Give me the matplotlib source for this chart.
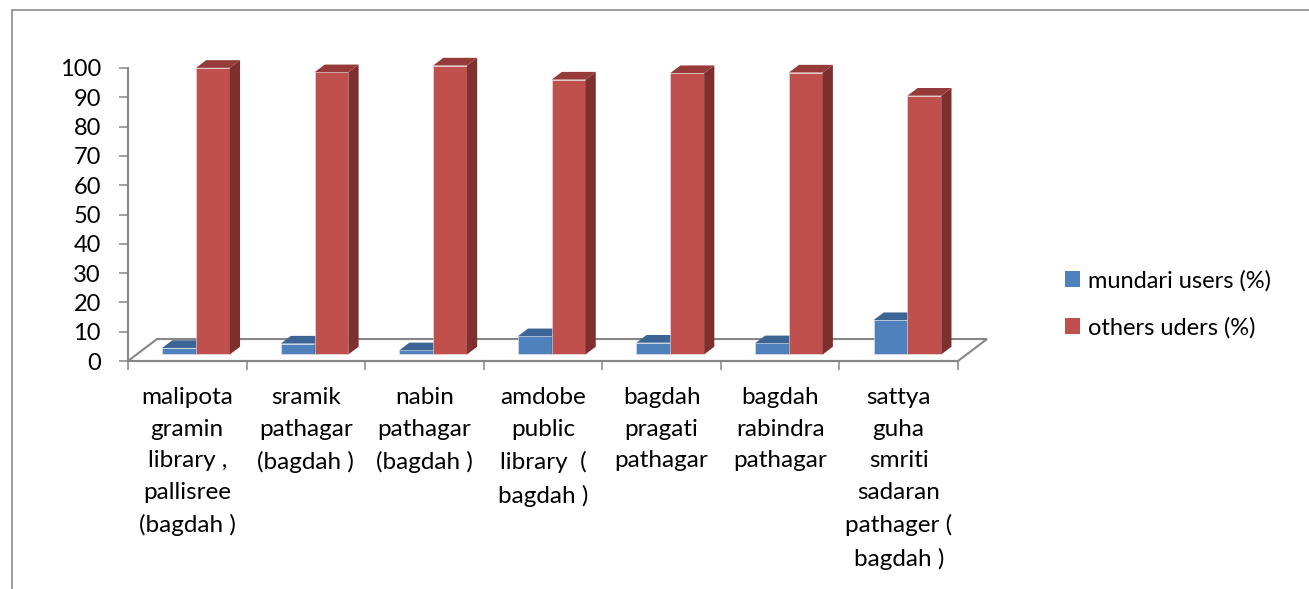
import matplotlib
matplotlib.use("Agg")
import matplotlib.pyplot as plt
from matplotlib.patches import Polygon, Rectangle, Patch

plt.rcParams['font.family'] = ['Lato', 'DejaVu Sans']

# data
libraries = [
    "malipota\ngramin\nlibrary ,\npallisree\n(bagdah )",
    "sramik\npathagar\n(bagdah )",
    "nabin\npathagar\n(bagdah )",
    "amdobe\npublic\nlibrary  (\nbagdah )",
    "bagdah\npragati\npathagar",
    "bagdah\nrabindra\npathagar",
    "sattya\nguha\nsmriti\nsadaran\npathager (\nbagdah )",
]
mundari_users = [2.2, 3.7, 1.4, 6.2, 4.0, 3.8, 11.7]
others_users = [97.8, 96.3, 98.6, 93.8, 96.0, 96.2, 88.3]
series_names = ["mundari users (%)", "others uders (%)"]
yticks = list(range(0, 101, 10))

# colours: front, top, side
BLUE = ('#4F81BD', '#3C6494', '#385D8A')
RED = ('#C0504D', '#963B39', '#7D302E')
GRAY = '#868686'

W, H = 1309, 589
fig = plt.figure(figsize=(W / 100, H / 100), dpi=100)
ax = fig.add_axes([128 / W, (H - 361) / H, 830 / W, 293 / H])
n = len(libraries)
ax.set_xlim(-0.5, n - 0.5)
ax.set_ylim(0, 100)

# oblique depth of the floor, in data units
DX, DY = 0.245, 7.5
F0, F1 = 0.30, 0.65     # bar front / back depth fractions
bar_w = 1 / 3.5         # gap width 150%

floor = Polygon([(-0.5, 0), (n - 0.5, 0), (n - 0.5 + DX, DY), (-0.5 + DX, DY)],
                closed=True, facecolor='white', edgecolor=GRAY, lw=1.5,
                clip_on=False, zorder=1)
ax.add_patch(floor)


def draw_bar(x0, val, cols):
    fx, fy = F0 * DX, F0 * DY
    bx, by = (F1 - F0) * DX, (F1 - F0) * DY
    xl, xr = x0 + fx, x0 + bar_w + fx
    yb, yt = fy, fy + val
    ax.bar(xl, val, width=bar_w, bottom=yb, align='edge', color=cols[0],
           edgecolor='#e8e8e8', lw=0.4, clip_on=False, zorder=3)
    top = Polygon([(xl, yt), (xr, yt), (xr + bx, yt + by), (xl + bx, yt + by)],
                  closed=True, facecolor=cols[1], edgecolor='none',
                  clip_on=False, zorder=3)
    side = Polygon([(xr, yb), (xr + bx, yb + by), (xr + bx, yt + by), (xr, yt)],
                   closed=True, facecolor=cols[2], edgecolor='none',
                   clip_on=False, zorder=3)
    ax.add_patch(side)
    ax.add_patch(top)


for i in range(n):
    draw_bar(i - bar_w, mundari_users[i], BLUE)
    draw_bar(i, others_users[i], RED)

for s in ['top', 'right']:
    ax.spines[s].set_visible(False)
for s in ['left', 'bottom']:
    ax.spines[s].set_color(GRAY)
    ax.spines[s].set_linewidth(1.5)

ax.set_yticks(yticks)
ax.set_yticklabels([str(t) for t in yticks])
ax.tick_params(axis='y', direction='out', length=6.5, width=1.1, color=GRAY,
               pad=13, labelsize=17, labelcolor='black')

ax.set_xticks([i - 0.5 for i in range(n + 1)])
ax.set_xticklabels([])
ax.set_xticks(list(range(n)), minor=True)
ax.set_xticklabels(libraries, minor=True, linespacing=1.62)
ax.tick_params(axis='x', which='major', direction='out', length=6.5, width=1.1,
               color=GRAY)
ax.tick_params(axis='x', which='minor', length=0, pad=19, labelsize=17.5)
ax.set_facecolor('none')

handles = [Patch(facecolor=BLUE[0]), Patch(facecolor=RED[0])]
fig.legend(handles, series_names, loc='upper left',
           bbox_to_anchor=(1053 / W, 1 - 258 / H), frameon=False,
           fontsize=17, handlelength=0.65, handleheight=0.65,
           handletextpad=0.35, labelspacing=1.07, borderpad=0)

fig.add_artist(Rectangle((12 / W, -0.1), 2, 1.1 - 10 / H,
                         transform=fig.transFigure, facecolor='none',
                         edgecolor='#8C8C8C', lw=1.2))

fig.savefig('out.png', dpi=100)
